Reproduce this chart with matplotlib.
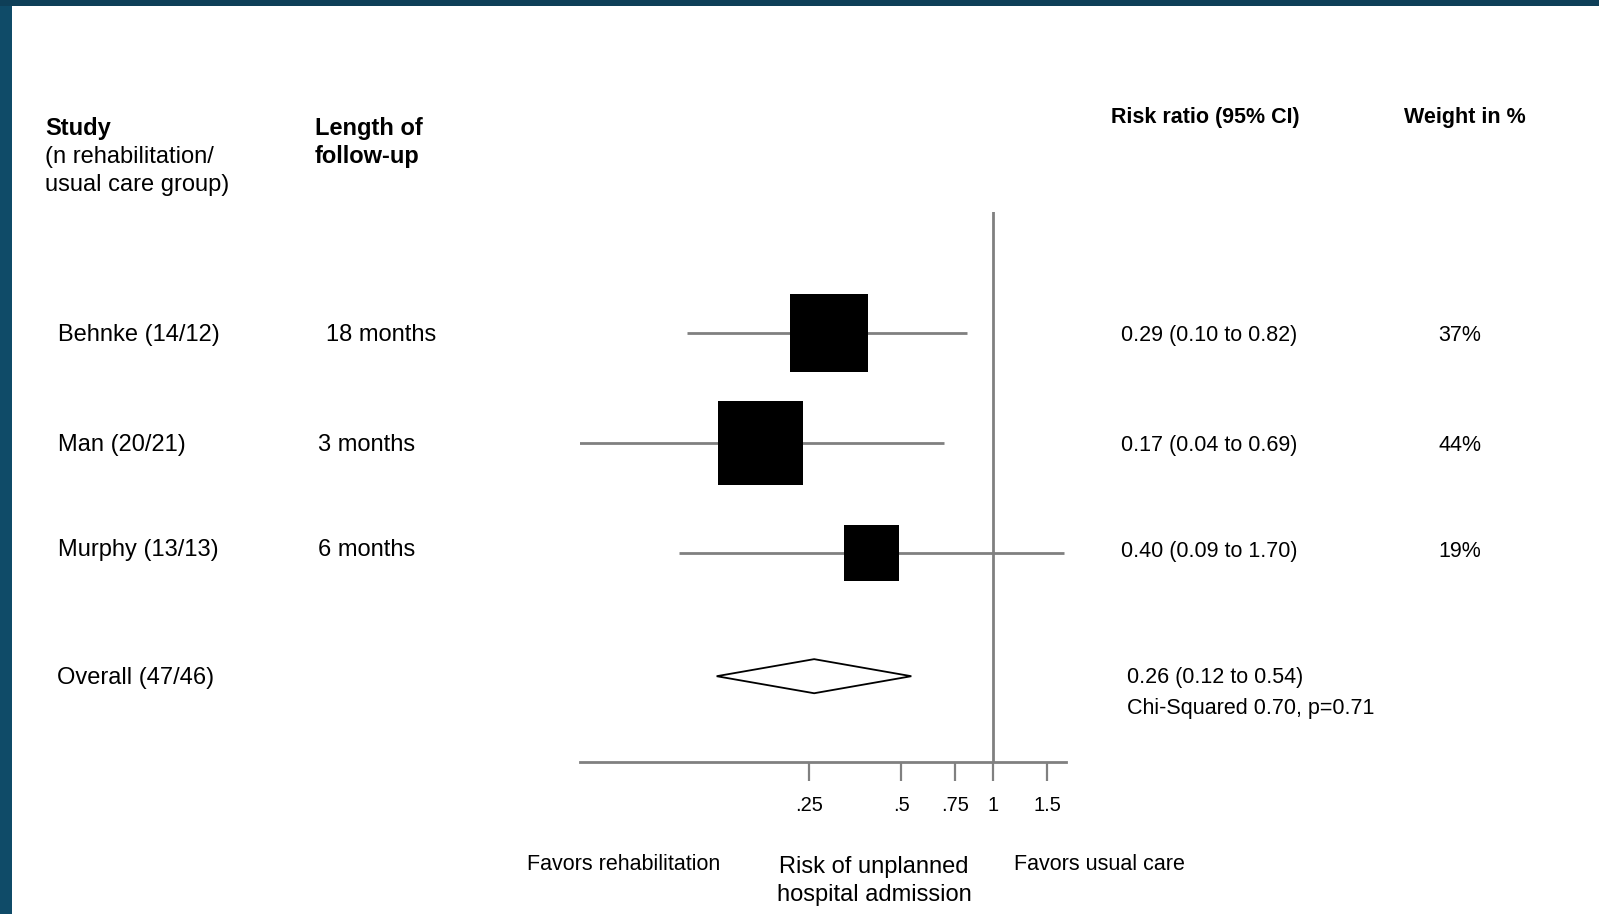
import numpy as np
import matplotlib
matplotlib.use("Agg")
import matplotlib.pyplot as plt
from matplotlib.patches import Rectangle, Polygon
from matplotlib.ticker import NullLocator
from matplotlib.transforms import blended_transform_factory

plt.rcParams["font.family"] = ["Liberation Sans", "DejaVu Sans"]

# data
studies = ["Behnke", "Man", "Murphy"]
n_rehab = [14, 20, 13]
n_usual = [12, 21, 13]
follow_up = ["18 months", "3 months", "6 months"]
rr = [0.29, 0.174, 0.40]
ci_low = [0.10, 0.04, 0.094]
ci_high = [0.82, 0.69, 1.70]
weights = [37, 44, 19]

overall_n = (47, 46)
overall_rr = 0.26
overall_low = 0.1249
overall_high = 0.54
chi_sq = 0.70
p_value = 0.71

tick_values = [0.25, 0.5, 0.75, 1, 1.5]
tick_labels = [".25", ".5", ".75", "1", "1.5"]

GREY = "#808080"
W, H = 1599, 914


def fx(x):
    return x / W


def fy(y):
    return 1 - y / H


fig = plt.figure(figsize=(W / 100, H / 100), dpi=100)
fig.patch.set_facecolor("white")

# dark frame on the left and top edges
fig.patches.append(Rectangle((0, 0), fx(12), 1, transform=fig.transFigure,
                             facecolor="#0f4b68", edgecolor="none", zorder=0))
fig.patches.append(Rectangle((0, fy(6)), 1, 6 / H, transform=fig.transFigure,
                             facecolor="#0e3f58", edgecolor="none", zorder=0))

ax = fig.add_axes([fx(580), fy(762), fx(1066) - fx(580), (762 - 212) / H])
ax.patch.set_alpha(0)
ax.set_xscale("log")
ax.set_xlim(0.0447, 1.728)
ax.set_ylim(5.0, 0)

rows = [1.1, 2.1, 3.1]
overall_row = 4.22

ax.axvline(1, color=GREY, lw=2, zorder=1)
ax.hlines(rows, ci_low, ci_high, color=GREY, lw=2, zorder=2)
sizes = [(12.8 * np.sqrt(w) * 0.72) ** 2 for w in weights]
ax.scatter(rr, rows, s=sizes, marker="s", color="black", linewidths=0, zorder=3)

dh = 0.155
diamond = Polygon([(overall_low, overall_row), (overall_rr, overall_row - dh),
                   (overall_high, overall_row), (overall_rr, overall_row + dh)],
                  closed=True, facecolor="white", edgecolor="black", lw=1.3, zorder=3)
ax.add_patch(diamond)

for side in ["top", "left", "right"]:
    ax.spines[side].set_visible(False)
ax.spines["bottom"].set_color(GREY)
ax.spines["bottom"].set_linewidth(2)
ax.set_yticks([])
ax.set_xticks(tick_values)
ax.set_xticklabels(tick_labels)
ax.xaxis.set_minor_locator(NullLocator())
ax.tick_params(axis="x", length=13.7, width=1.6, color=GREY, pad=11, labelsize=14.5)

# column headers
fs = 15.5
fl = 17
fig.text(fx(45), fy(135), "Study", fontsize=fl, fontweight="bold", va="baseline")
fig.text(fx(45), fy(163), "(n rehabilitation/", fontsize=fl, va="baseline")
fig.text(fx(45), fy(191), "usual care group)", fontsize=fl, va="baseline")
fig.text(fx(315), fy(135), "Length of", fontsize=fl, fontweight="bold", va="baseline")
fig.text(fx(315), fy(163), "follow-up", fontsize=fl, fontweight="bold", va="baseline")
fig.text(fx(1111), fy(123), "Risk ratio (95% CI)", fontsize=fs, fontweight="bold", va="baseline")
fig.text(fx(1404), fy(123), "Weight in %", fontsize=fs, fontweight="bold", va="baseline")

# table rows
tr = blended_transform_factory(fig.transFigure, ax.transData)
fu_x = [326, 318, 318]
text_rows = [1.115, 2.115, 3.075]
for i, y in enumerate(text_rows):
    ax.text(fx(58), y, f"{studies[i]} ({n_rehab[i]}/{n_usual[i]})", transform=tr,
            fontsize=fl, va="center")
    ax.text(fx(fu_x[i]), y, follow_up[i], transform=tr, fontsize=fl, va="center")
    ax.text(fx(1121), y + 0.01, f"{rr[i]:.2f} ({ci_low[i]:.2f} to {ci_high[i]:.2f})",
            transform=tr, fontsize=fs, va="center")
    ax.text(fx(1460), y + 0.01, f"{weights[i]}%", transform=tr, fontsize=fs,
            va="center", ha="center")

ax.text(fx(57), overall_row + 0.02, f"Overall ({overall_n[0]}/{overall_n[1]})", transform=tr,
        fontsize=fl, va="center")
ax.text(fx(1127), overall_row + 0.01, f"{overall_rr:.2f} ({overall_low:.2f} to {overall_high:.2f})",
        transform=tr, fontsize=fs, va="center")
ax.text(fx(1127), overall_row + 0.29, f"Chi-Squared {chi_sq:.2f}, p={p_value:.2f}",
        transform=tr, fontsize=fs, va="center")

# axis annotations
fig.text(fx(527), fy(864), "Favors rehabilitation", fontsize=fs, va="center")
fig.text(fx(874), fy(867), "Risk of unplanned", fontsize=17, va="center", ha="center")
fig.text(fx(874), fy(895), "hospital admission", fontsize=17, va="center", ha="center")
fig.text(fx(1014), fy(864), "Favors usual care", fontsize=fs, va="center")

fig.savefig("out.png", dpi=100)
plt.close(fig)
